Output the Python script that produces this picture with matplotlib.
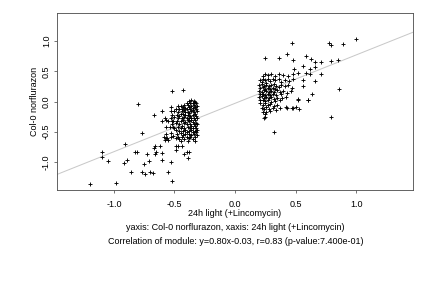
import matplotlib
matplotlib.use("Agg")
from matplotlib import pyplot as plt

# module genes: x = 24h light (+Lincomycin), y = Col-0 norflurazon
left_x = [-1.20, -0.98, -1.10, -1.10, -1.05, -0.91, -0.92, -0.89, -0.86, -0.83,
          -0.81, -0.77, -0.77, -0.75, -0.74, -0.73, -0.71, -0.70, -0.68, -0.80,
          -0.67, -0.66, -0.67, -0.66, -0.65, -0.60, -0.60, -0.62, -0.55, -0.53,
          -0.52, -0.49, -0.49, -0.47, -0.44, -0.42, -0.40, -0.39, -0.38, -0.43,
          -0.52, -0.60, -0.58, -0.60, -0.57, -0.57, -0.57, -0.59, -0.57, -0.55,
          -0.53, -0.53, -0.53, -0.52, -0.52, -0.51]
left_y = [-1.37, -1.34, -0.83, -0.91, -0.98, -0.70, -1.01, -0.96, -1.16, -0.83,
          -0.84, -0.52, -1.17, -1.04, -1.20, -0.86, -0.98, -1.16, -1.18, -0.04,
          -0.22, -0.87, -0.77, -0.73, -0.84, -0.85, -0.96, -0.74, -1.17, -1.00,
          -1.32, -0.81, -0.74, -0.74, -0.73, -0.86, -0.84, -0.94, -0.83, 0.19,
          0.17, -0.16, -0.28, -0.33, -0.31, -0.42, -0.53, -0.58, -0.61, -0.63,
          -0.59, -0.15, -0.09, -0.22, -0.32, -0.42]

blob_left_x = [-0.38, -0.36, -0.34, -0.33, -0.40, -0.37, -0.35, -0.32, -0.42, -0.39,
               -0.36, -0.34, -0.31, -0.45, -0.47, -0.43, -0.41, -0.38, -0.35, -0.33,
               -0.49, -0.46, -0.44, -0.42, -0.40, -0.37, -0.35, -0.32, -0.31, -0.34,
               -0.36, -0.39, -0.41, -0.44, -0.47, -0.50, -0.38, -0.33, -0.45, -0.43,
               -0.48, -0.46, -0.41, -0.39, -0.37, -0.35, -0.32, -0.31, -0.34, -0.36,
               -0.38, -0.40, -0.42, -0.44, -0.47, -0.50, -0.53, -0.36, -0.33, -0.39,
               -0.55, -0.51, -0.48, -0.45, -0.43, -0.41, -0.38, -0.35, -0.32, -0.31,
               -0.34, -0.37, -0.40, -0.42, -0.46, -0.49, -0.52, -0.36, -0.33, -0.44,
               -0.54, -0.50, -0.47, -0.45, -0.42, -0.39, -0.37, -0.35, -0.32, -0.31,
               -0.33, -0.36, -0.38, -0.41, -0.43, -0.46, -0.49, -0.35, -0.40, -0.32,
               -0.53, -0.48, -0.45, -0.43, -0.41, -0.38, -0.36, -0.34, -0.31, -0.33,
               -0.37, -0.40, -0.44, -0.47, -0.51, -0.49, -0.46, -0.42, -0.38, -0.35,
               -0.33, -0.39, -0.45, -0.56, -0.58]
blob_left_y = [0.01, 0.02, 0.01, -0.01, -0.02, -0.03, -0.02, -0.03, -0.05, -0.06,
               -0.07, -0.05, -0.07, -0.07, -0.08, -0.09, -0.10, -0.09, -0.10, -0.09,
               -0.12, -0.13, -0.12, -0.14, -0.13, -0.12, -0.14, -0.13, -0.16, -0.17,
               -0.16, -0.17, -0.18, -0.16, -0.17, -0.15, -0.19, -0.20, -0.20, -0.21,
               -0.22, -0.24, -0.23, -0.22, -0.24, -0.23, -0.24, -0.27, -0.27, -0.28,
               -0.27, -0.28, -0.26, -0.28, -0.27, -0.26, -0.28, -0.30, -0.30, -0.31,
               -0.32, -0.33, -0.32, -0.33, -0.31, -0.34, -0.33, -0.34, -0.35, -0.38,
               -0.37, -0.37, -0.38, -0.36, -0.37, -0.36, -0.38, -0.40, -0.41, -0.40,
               -0.42, -0.43, -0.42, -0.44, -0.43, -0.42, -0.44, -0.43, -0.44, -0.47,
               -0.48, -0.47, -0.48, -0.47, -0.49, -0.48, -0.47, -0.50, -0.51, -0.51,
               -0.52, -0.53, -0.52, -0.55, -0.54, -0.53, -0.55, -0.54, -0.55, -0.58,
               -0.58, -0.58, -0.59, -0.58, -0.57, -0.61, -0.62, -0.62, -0.61, -0.62,
               -0.65, -0.66, -0.65, -0.60, -0.64]

right_x = [1.00, 0.78, 0.79, 0.89, 0.47, 0.25, 0.36, 0.43, 0.48, 0.59,
           0.63, 0.66, 0.71, 0.79, 0.85, 0.86, 0.79, 0.32, 0.25, 0.52,
           0.60, 0.64, 0.53, 0.48, 0.42, 0.66, 0.71, 0.66, 0.62, 0.56,
           0.56, 0.56, 0.52, 0.49, 0.48, 0.62, 0.59, 0.43, 0.47, 0.50,
           0.52, 0.60, 0.25, 0.24]
right_y = [1.04, 0.96, 0.93, 0.95, 0.96, 0.72, 0.72, 0.78, 0.68, 0.75,
           0.71, 0.66, 0.66, 0.67, 0.68, 0.21, -0.25, -0.50, -0.26, 0.03,
           0.02, 0.13, -0.13, -0.10, -0.09, 0.34, 0.45, 0.57, 0.53, 0.58,
           0.36, 0.25, 0.48, 0.54, 0.45, 0.45, 0.48, -0.10, -0.11, -0.09,
           0.04, 0.02, -0.20, -0.28]

blob_right_x = [0.23, 0.25, 0.27, 0.30, 0.33, 0.36, 0.40, 0.44,
                0.21, 0.23, 0.25, 0.27, 0.29, 0.31, 0.33, 0.36, 0.38, 0.41, 0.45, 0.48, 0.26, 0.22,
                0.20, 0.22, 0.24, 0.26, 0.28, 0.30, 0.32, 0.34, 0.36, 0.38, 0.41, 0.44, 0.47,
                0.21, 0.23, 0.25, 0.27, 0.29, 0.31, 0.33,
                0.20, 0.22, 0.24, 0.26, 0.28, 0.30, 0.32, 0.35, 0.37, 0.40, 0.43, 0.46,
                0.21, 0.23, 0.25, 0.27, 0.29, 0.31, 0.34, 0.38,
                0.20, 0.22, 0.24, 0.26, 0.28, 0.30, 0.32, 0.35, 0.39, 0.42,
                0.21, 0.23, 0.25, 0.27, 0.30, 0.33, 0.37,
                0.21, 0.23, 0.25, 0.27, 0.29, 0.32, 0.35, 0.22, 0.24, 0.26,
                0.28, 0.31, 0.34, 0.37, 0.23, 0.26, 0.29]
blob_right_y = [0.43, 0.46, 0.44, 0.45, 0.43, 0.46, 0.44, 0.42,
                0.36, 0.38, 0.35, 0.37, 0.34, 0.38, 0.35, 0.37, 0.33, 0.36, 0.34, 0.38, 0.31, 0.32,
                0.27, 0.29, 0.26, 0.28, 0.25, 0.27, 0.29, 0.26, 0.24, 0.28, 0.25, 0.27, 0.23,
                0.22, 0.24, 0.21, 0.23, 0.21, 0.22, 0.21,
                0.18, 0.16, 0.19, 0.17, 0.15, 0.18, 0.16, 0.19, 0.15, 0.17, 0.14, 0.18,
                0.12, 0.13, 0.11, 0.13, 0.10, 0.12, 0.11, 0.12,
                0.07, 0.09, 0.06, 0.08, 0.05, 0.07, 0.04, 0.06, 0.05, 0.08,
                0.02, 0.03, 0.01, 0.02, 0.00, 0.01, 0.02,
                -0.03, -0.05, -0.02, -0.06, -0.04, -0.07, -0.05, -0.10, -0.12, -0.09,
                -0.13, -0.11, -0.14, -0.10, -0.17, -0.18, -0.16]

slope = 0.80
intercept = -0.03
ticks = [-1.0, -0.5, 0.0, 0.5, 1.0]

xs = left_x + blob_left_x + right_x + blob_right_x
ys = left_y + blob_left_y + right_y + blob_right_y

plt.rcParams["font.family"] = ["Liberation Sans", "DejaVu Sans"]
plt.rcParams["font.size"] = 9

fig = plt.figure(figsize=(6, 4), dpi=72)
ax = fig.add_axes([0.132, 0.340, 0.824, 0.615])

lim = 1.47
ax.plot([-lim, lim], [slope * -lim + intercept, slope * lim + intercept],
        color="#c8c8c8", lw=1, zorder=1)
ax.scatter(xs, ys, marker="+", s=16, c="black", linewidths=0.9, zorder=2)

ax.set_xlim(-lim, lim)
ax.set_ylim(-1.465, 1.465)
ax.set_xticks(ticks)
ax.set_yticks(ticks)
ax.set_xticklabels(["%.1f" % t for t in ticks])
ax.set_yticklabels(["%.1f" % t for t in ticks], rotation=90, va="center")
for s in ax.spines.values():
    s.set_color("#555555")
    s.set_linewidth(0.9)
ax.tick_params(length=3, width=0.8, color="#555555", pad=7)
ax.tick_params(axis="y", pad=3)

ax.set_xlabel("24h light (+Lincomycin)", labelpad=0)
ax.set_ylabel("Col-0 norflurazon", labelpad=3)

fig.text(0.545, 1 - 227 / 288, "yaxis: Col-0 norflurazon, xaxis: 24h light (+Lincomycin)",
         ha="center", va="center")
fig.text(0.545, 1 - 241 / 288,
         "Correlation of module: y=0.80x-0.03, r=0.83 (p-value:7.400e-01)",
         ha="center", va="center")

fig.savefig("out.png", dpi=72)
